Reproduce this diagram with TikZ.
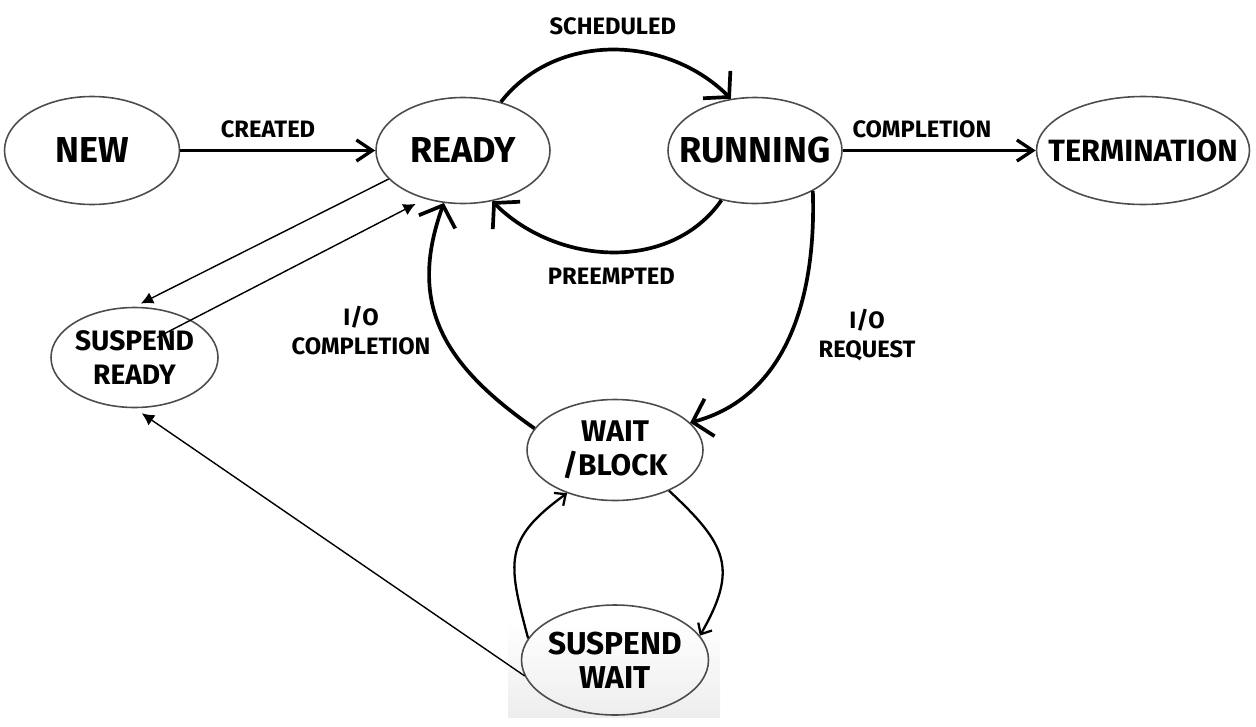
\documentclass[tikz,border=0pt]{standalone}
\usepackage{fontspec}
\setmainfont{Fira Sans}
\usetikzlibrary{arrows.meta,shapes.geometric,positioning}

\begin{document}
\begin{tikzpicture}[node distance=5cm, on grid, auto, semithick]
  \tikzstyle{state} = [draw=black!70, line width=0.9pt, ellipse, inner sep=0pt, inner xsep=-0.4cm, align=center, font={\fontsize{20.5}{24}\selectfont\bfseries}]
  \tikzstyle{stateEdgePortion} = [black, line width=1.9pt];
  \tikzstyle{stateEdge} = [stateEdgePortion, -{Straight Barb[length=9pt,width=12pt]}];
  \tikzstyle{cycleEdge} = [stateEdgePortion, line width=2.1pt, -{Straight Barb[length=10pt,width=22pt]}];
  \tikzstyle{swapEdge} = [stateEdgePortion, line width=1.3pt, -{Straight Barb[length=5pt,width=9pt]}];
  \tikzstyle{suspendEdge} = [black, line width=0.8pt, -{Latex[length=7pt,width=7pt]}];
  \tikzstyle{edgeLabel} = [font={\fontsize{13.5}{16.5}\selectfont\bfseries}, align=center];

  \useasboundingbox (0,0) rectangle (25.12,-14.52);
  \shade[top color=white, bottom color=black!7] (10.16,-12.4) rectangle (14.4,-14.34);

  \node[state, minimum width=3.5cm, minimum height=2.16cm] (new) at (1.84,-3.01) {NEW};
  \node[state, minimum width=3.48cm, minimum height=2.12cm] (ready) [right=7.42cm of new] {READY};
  \node[state, minimum width=3.48cm, minimum height=2.12cm] (running) [right=5.84cm of ready] {RUNNING};
  \node[state, minimum width=4.26cm, minimum height=2.16cm, inner xsep=-0.45cm, font={\fontsize{17.5}{21}\selectfont\bfseries}] (term) [right=7.76cm of running] {TERMINATION};
  \node[state, minimum width=3.34cm, minimum height=2cm, font={\fontsize{16}{19}\selectfont\bfseries}] (sready) [below right=4.14cm and 0.85cm of new] {SUSPEND\\READY};
  \node[state, minimum width=3.52cm, minimum height=2.02cm, font={\fontsize{17}{19}\selectfont\bfseries}] (wait) [below right=5.99cm and 3.04cm of ready] {WAIT\\/BLOCK};
  \node[state, minimum width=3.74cm, minimum height=2.2cm, font={\fontsize{18}{19.5}\selectfont\bfseries}] (swait) [below=4.2cm of wait] {SUSPEND\\WAIT};

  \path (new) edge[stateEdge] node[edgeLabel, above=3pt, pos=0.45] {CREATED} (ready)
  (ready.52) edge[cycleEdge, out=52, in=135] node[edgeLabel, above=4pt] {SCHEDULED} (running.115)
  (running.236) edge[cycleEdge, out=235, in=-45] node[edgeLabel, below=5pt] {PREEMPTED} (ready.300)
  (running) edge[stateEdge] node[edgeLabel, above=3pt, pos=0.41] {COMPLETION} (term)
  (running.-35) edge[cycleEdge, out=-88, in=15] node[edgeLabel, right=12pt] {I/O\\REQUEST} (wait.20)
  (wait.165) edge[cycleEdge, out=145, in=-110, looseness=1.15] node[edgeLabel, left=2pt] {I/O\\COMPLETION} (ready.250)
  (wait.-37) edge[swapEdge, out=-43, in=60, looseness=1.35] (swait.16)
  (swait.166) edge[swapEdge, out=105, in=216, looseness=1.35] (wait.222);

  \coordinate (srInner) at ([shift={(0.45,0.4)}]sready.center);
  \draw[suspendEdge, shorten >=4pt] (ready.201) -- (sready.north);
  \draw[suspendEdge, shorten >=6pt] (srInner) -- (ready.232);
  \draw[suspendEdge, shorten >=5pt] (swait.190) -- (sready.south);
\end{tikzpicture}
\end{document}
